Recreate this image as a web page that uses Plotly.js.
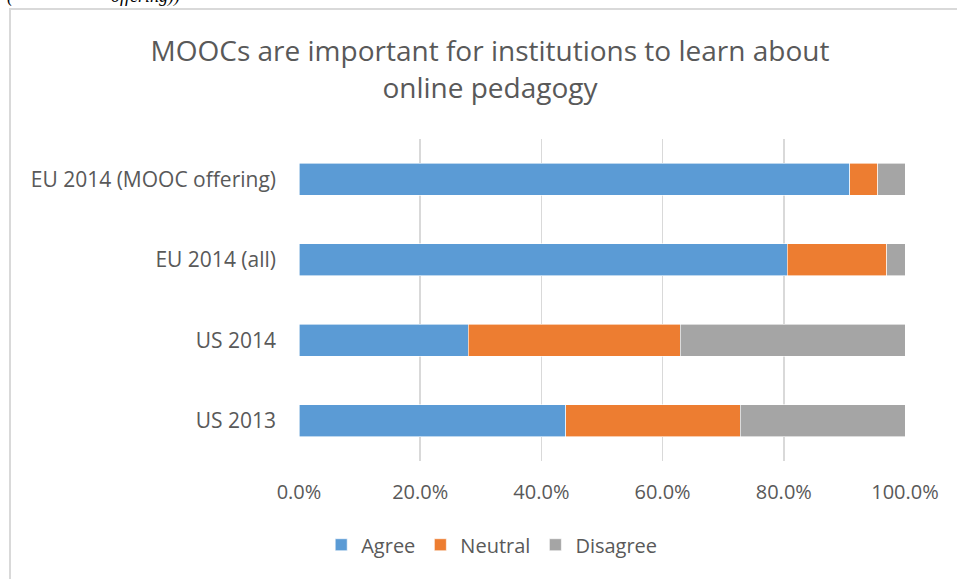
<!DOCTYPE html>
<html>
<head>
<meta charset="utf-8">
<script src="https://cdn.plot.ly/plotly-3.0.1.min.js"></script>
<style>
  html, body { margin: 0; padding: 0; width: 957px; height: 579px; overflow: hidden; background: #fff; }
  #frame { position: absolute; left: 9px; top: 8px; width: 1000px; height: 700px;
           border-left: 2px solid #d9d9d9; border-top: 2px solid #d9d9d9; }
  #clip { position: absolute; left: 0; top: -14px; font-family: "Liberation Serif", serif; font-style: italic;
          font-size: 18px; color: #000; white-space: nowrap; }
  #chart { position: absolute; left: 0; top: 0; width: 957px; height: 579px; }
</style>
</head>
<body>
<div id="clip"><span style="position:absolute;left:7px;">(</span><span style="position:absolute;left:111px;">offering))</span></div>
<div id="frame"></div>
<div id="chart"></div>
<script>
const categories = ["US 2013", "US 2014", "EU 2014 (all)", "EU 2014 (MOOC offering)"];
const agree    = [44.0, 27.9, 80.6, 90.9];
const neutral  = [28.8, 35.0, 16.4, 4.6];
const disagree = [27.2, 37.1, 3.0, 4.5];
const seriesNames = ["Agree", "Neutral", "Disagree"];
const colors = ["#5B9BD5", "#ED7D31", "#A5A5A5"];
const tickValues = [0, 20, 40, 60, 80, 100];
const tickLabels = ["0.0%", "20.0%", "40.0%", "60.0%", "80.0%", "100.0%"];

const series = [agree, neutral, disagree];
const traces = series.map((vals, i) => ({
  type: "bar",
  orientation: "h",
  name: seriesNames[i],
  y: categories,
  x: vals,
  width: 0.4,
  marker: { color: colors[i], line: { color: "#ffffff", width: 0.6 } },
  hoverinfo: "skip"
}));

const font = "Open Sans, Noto Sans, sans-serif";
const layout = {
  width: 957, height: 579,
  paper_bgcolor: "rgba(0,0,0,0)",
  plot_bgcolor: "rgba(0,0,0,0)",
  barmode: "stack",
  margin: { l: 299, r: 52, t: 139, b: 118 },
  title: {
    text: "MOOCs are important for institutions to learn about<br>online pedagogy",
    font: { family: font, size: 28, color: "#595959" },
    xref: "container", x: 0.512, xanchor: "center",
    yref: "container", y: 0.894, yanchor: "middle"
  },
  xaxis: {
    range: [0, 100],
    tickmode: "array",
    tickvals: tickValues,
    ticktext: tickLabels,
    showgrid: true, gridcolor: "#d9d9d9", gridwidth: 1.5,
    zeroline: false, showline: false,
    ticks: "",
    ticklabelstandoff: 17,
    tickfont: { family: font, size: 20, color: "#595959" },
    fixedrange: true
  },
  yaxis: {
    categoryorder: "array", categoryarray: categories,
    showgrid: false, zeroline: false, showline: false,
    ticks: "",
    ticklabelstandoff: 22,
    tickfont: { family: font, size: 21, color: "#595959" },
    fixedrange: true
  },
  showlegend: true,
  legend: {
    orientation: "h",
    x: 0.318, xanchor: "center",
    y: -0.26, yanchor: "middle",
    traceorder: "normal",
    font: { family: font, size: 20, color: "#595959" },
    itemwidth: 30
  }
};

Plotly.newPlot("chart", traces, layout, { displayModeBar: false, staticPlot: true });
</script>
</body>
</html>
